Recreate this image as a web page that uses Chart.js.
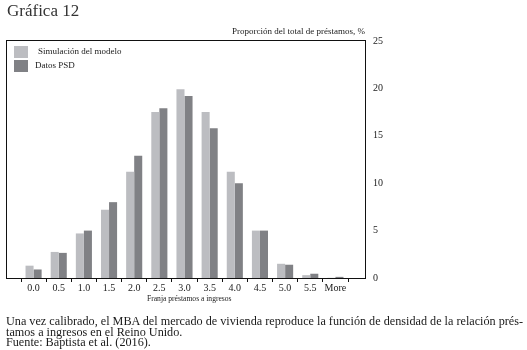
<!DOCTYPE html>
<html>
<head>
<meta charset="utf-8">
<script src="https://cdn.jsdelivr.net/npm/chart.js@4.4.1/dist/chart.umd.min.js"></script>
<style>
  body { margin: 0; background: #fff; }
  #wrap { position: relative; width: 527px; height: 350px; overflow: hidden; font-family: "Liberation Serif", "DejaVu Serif", serif; color: #1a1a1a; }
  #grafico { position: absolute; left: 0; top: 0; }
  .titulo { position: absolute; left: 7px; top: 1px; font-size: 17px; color: #333; }
  .ytitulo { position: absolute; right: 162px; top: 26px; font-size: 9px; white-space: nowrap; }
  .xtitulo { position: absolute; left: 147px; top: 294px; font-size: 7.6px; white-space: nowrap; }
  .nota { position: absolute; left: 6px; top: 316px; font-size: 12.2px; line-height: 10.6px; white-space: nowrap; }
</style>
</head>
<body>
<div id="wrap">
  <canvas id="grafico" width="527" height="350"></canvas>
  <div class="titulo">Gráfica 12</div>
  <div class="ytitulo">Proporción del total de préstamos, %</div>
  <div class="xtitulo">Franja préstamos a ingresos</div>
  <div class="nota">Una vez calibrado, el MBA del mercado de vivienda reproduce la función de densidad de la relación prés-<br>tamos a ingresos en el Reino Unido.<br>Fuente: Baptista et al. (2016).</div>
</div>
<script>
// franjas préstamo/ingreso
const franjas = ["0.0", "0.5", "1.0", "1.5", "2.0", "2.5", "3.0", "3.5", "4.0", "4.5", "5.0", "5.5", "More"];
// % del total de préstamos
const simulacion = [1.3, 2.75, 4.7, 7.2, 11.2, 17.5, 19.9, 17.5, 11.2, 5.0, 1.5, 0.3, 0.02];
const datosPSD = [0.9, 2.65, 5.0, 8.0, 12.9, 17.9, 19.2, 15.8, 10.0, 5.0, 1.4, 0.45, 0.12];
const ticksY = [0, 5, 10, 15, 20, 25];

const fuente = "Liberation Serif";

// marco del gráfico y leyenda dentro del recuadro
const marco = {
  id: "marco",
  afterDraw(chart) {
    const { ctx, chartArea } = chart;
    const x0 = chartArea.left - 15, x1 = chartArea.right + 17;
    const y0 = chartArea.top - 1, y1 = chartArea.bottom;
    ctx.save();
    ctx.strokeStyle = "#111";
    ctx.lineWidth = 1;
    ctx.strokeRect(x0 + 0.5, y0 + 0.5, x1 - x0, y1 - y0);

    ctx.font = "9px " + fuente;
    ctx.textBaseline = "middle";
    const filas = [{ y: 46, tx: 38 }, { y: 60, tx: 35 }];
    chart.data.datasets.forEach((ds, i) => {
      ctx.fillStyle = ds.backgroundColor;
      ctx.fillRect(14, filas[i].y, 14, 12);
      ctx.fillStyle = "#1a1a1a";
      ctx.fillText(ds.label, filas[i].tx, filas[i].y + 6);
    });
    ctx.restore();
  }
};

new Chart(document.getElementById("grafico"), {
  type: "bar",
  data: {
    labels: franjas,
    datasets: [
      { label: "Simulación del modelo", data: simulacion, backgroundColor: "#bcbdc1" },
      { label: "Datos PSD", data: datosPSD, backgroundColor: "#808185" }
    ]
  },
  options: {
    responsive: false,
    animation: false,
    layout: { padding: { left: 21, right: 129, top: 41, bottom: 47 } },
    datasets: { bar: { categoryPercentage: 0.64, barPercentage: 1.0 } },
    plugins: { legend: { display: false }, tooltip: { enabled: false } },
    scales: {
      x: {
        grid: { offset: true, drawOnChartArea: false, drawTicks: true, tickLength: 4, color: "#111" },
        border: { display: false },
        ticks: { color: "#1a1a1a", font: { family: fuente, size: 10 }, padding: 0, maxRotation: 0 },
        afterFit(scale) { scale.height = 25; }
      },
      y: {
        position: "right",
        min: 0,
        max: 25,
        afterBuildTicks(scale) { scale.ticks = ticksY.map(v => ({ value: v })); },
        grid: { display: false },
        border: { display: false },
        ticks: { color: "#1a1a1a", font: { family: fuente, size: 10 }, padding: 17 },
        afterFit(scale) { scale.width = 50; }
      }
    }
  },
  plugins: [marco]
});
</script>
</body>
</html>
